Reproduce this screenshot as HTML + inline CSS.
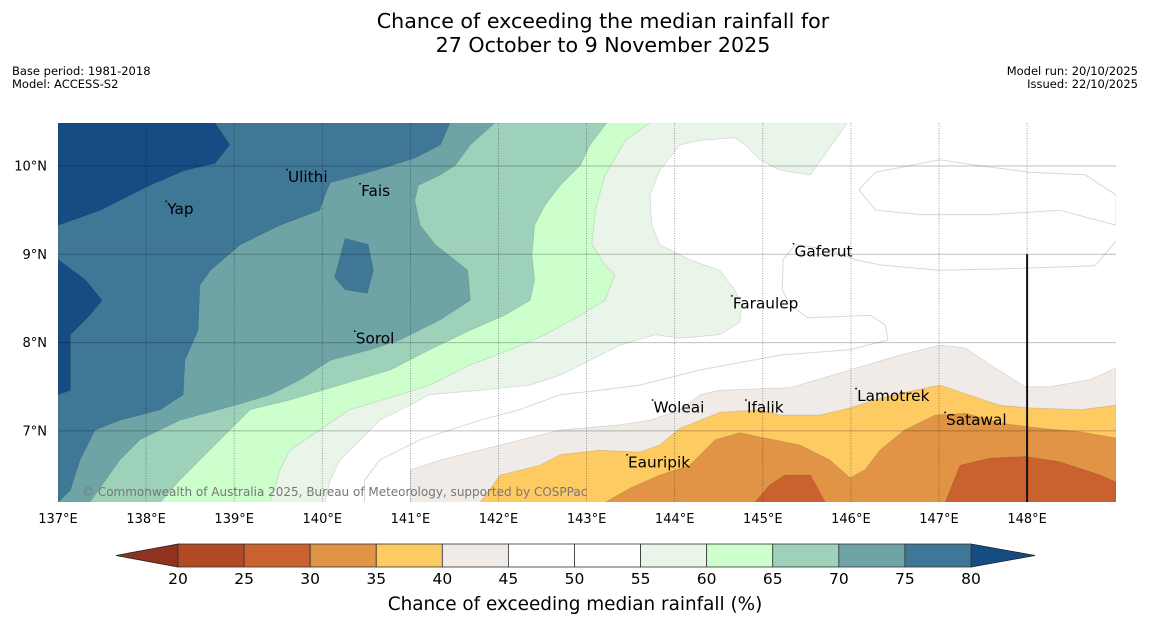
<!DOCTYPE html>
<html><head><meta charset="utf-8"><style>
html,body{margin:0;padding:0;background:#fff;}
svg{display:block;font-family:"DejaVu Sans","Liberation Sans",sans-serif;}
</style></head><body>
<svg id="chart" width="1150" height="644" viewBox="0 0 1150 644">
<text x="603" y="28" text-anchor="middle" font-size="20.6">Chance of exceeding the median rainfall for</text>
<text x="603" y="52" text-anchor="middle" font-size="20.6">27 October to 9 November 2025</text>
<text x="12" y="75" font-size="11.5">Base period: 1981-2018</text>
<text x="12" y="88" font-size="11.5">Model: ACCESS-S2</text>
<text x="1138" y="75" font-size="11.5" text-anchor="end">Model run: 20/10/2025</text>
<text x="1138" y="88" font-size="11.5" text-anchor="end">Issued: 22/10/2025</text>
<defs><clipPath id="mapclip"><rect x="58" y="123" width="1058" height="379"/></clipPath></defs>
<rect x="58" y="123" width="1058" height="379" fill="#ffffff"/>
<g id="fills" clip-path="url(#mapclip)"></g>
<g id="grid" clip-path="url(#mapclip)"></g>
<g id="labels"></g>
<g id="cbar"></g>
<text x="575" y="610" text-anchor="middle" font-size="18.4">Chance of exceeding median rainfall (%)</text>
</svg>
<script>
const lonTicks=[137,138,139,140,141,142,143,144,145,146,147,148];
const latTicks=[10,9,8,7];
const cbarBounds=[20,25,30,35,40,45,50,55,60,65,70,75,80];
const cbarColors=['#b24a25','#ca6230','#e19445','#fecb63','#f0ebe6','#ffffff','#ffffff','#e9f5e9','#ccffcc','#9dd1b9','#6ea4a6','#3f7797'];
const contourLevels=['ge55','ge60','ge65','ge70','ge75','ge80a','ge80b','ge75blob','le45','le40','le35','le30a','le30b'];
const contourColors=['#e9f5e9','#ccffcc','#9dd1b9','#6ea4a6','#3f7797','#154c83','#154c83','#3f7797','#f0ebe6','#fecb63','#e19445','#ca6230','#ca6230'];
const W=[[137,6.19],[137,10.49]];
const E=[[149.01,6.19]];
const ge55=[[145.96,10.49],[145.82,10.29],[145.54,9.90],[145.20,9.95],[144.97,10.07],[144.80,10.24],[144.68,10.32],[144.29,10.29],[144.06,10.24],[143.83,9.95],[143.72,9.67],[143.74,9.33],[143.83,9.11],[144.17,8.94],[144.51,8.82],[144.68,8.60],[144.76,8.43],[144.74,8.23],[144.51,8.09],[144.06,8.05],[143.78,8.09],[143.38,7.97],[143.04,7.80],[142.70,7.63],[142.36,7.52],[141.79,7.46],[141.22,7.41],[140.99,7.29],[140.65,7.12],[140.43,6.90],[140.20,6.67],[140.09,6.44],[140.03,6.19]].concat(W);
const ge60=[[143.72,10.49],[143.44,10.29],[143.21,9.90],[143.10,9.50],[143.06,9.11],[143.21,8.88],[143.32,8.77],[143.21,8.48],[142.93,8.31],[142.53,8.09],[142.13,7.92],[141.68,7.75],[141.22,7.52],[140.88,7.41],[140.31,7.24],[139.97,7.01],[139.63,6.78],[139.52,6.56],[139.41,6.19]].concat(W);
const ge65=[[143.23,10.49],[143.04,10.24],[142.93,10.01],[142.70,9.78],[142.53,9.56],[142.41,9.33],[142.38,8.99],[142.41,8.71],[142.36,8.48],[142.07,8.31],[141.68,8.14],[141.22,7.92],[140.77,7.69],[140.20,7.52],[139.63,7.35],[139.18,7.24],[138.95,7.01],[138.61,6.67],[138.38,6.44],[138.16,6.19]].concat(W);
const ge70=[[141.96,10.49],[141.68,10.24],[141.51,10.01],[141.34,9.90],[141.09,9.78],[141.05,9.61],[141.11,9.33],[141.28,9.11],[141.65,8.82],[141.68,8.48],[141.34,8.26],[140.88,8.03],[140.54,7.92],[140.09,7.80],[139.75,7.58],[139.41,7.41],[139.01,7.29],[138.38,7.12],[137.93,6.90],[137.70,6.67],[137.36,6.19]].concat(W);
const ge75=[[141.45,10.49],[141.34,10.24],[141.05,10.09],[140.60,9.95],[140.09,9.81],[140.03,9.67],[139.97,9.50],[139.52,9.33],[139.07,9.11],[138.73,8.82],[138.61,8.65],[138.59,8.14],[138.44,7.80],[138.42,7.41],[138.16,7.24],[137.70,7.12],[137.42,7.01],[137.25,6.67],[137.14,6.33],[137,6.19],[137,10.49]];
const ge75blob=[[140.26,9.18],[140.52,9.11],[140.58,8.82],[140.51,8.56],[140.26,8.60],[140.14,8.74]];
const ge80a=[[137,10.49],[138.78,10.49],[138.95,10.24],[138.78,10.03],[138.44,9.95],[138.04,9.78],[137.48,9.50],[137,9.33]];
const ge80b=[[137,8.94],[137.31,8.71],[137.50,8.48],[137.36,8.31],[137.14,8.09],[137.14,7.46],[137,7.41]];
const le45=[[141.00,6.19],[141.00,6.56],[141.34,6.67],[142.02,6.84],[142.70,7.01],[143.38,7.07],[143.72,7.12],[144.06,7.24],[144.29,7.41],[144.51,7.46],[145.31,7.49],[145.99,7.69],[146.56,7.86],[147.01,7.97],[147.30,7.94],[147.58,7.75],[147.98,7.50],[148.26,7.50],[148.71,7.58],[149.01,7.71]].concat(E);
const le40=[[141.79,6.19],[142.02,6.50],[142.47,6.61],[142.70,6.73],[143.15,6.78],[143.61,6.76],[143.83,6.84],[144.06,7.03],[144.29,7.12],[144.51,7.21],[144.97,7.24],[145.20,7.18],[145.65,7.18],[145.99,7.26],[146.33,7.37],[146.73,7.46],[147.01,7.52],[147.24,7.44],[147.69,7.29],[148.03,7.26],[148.60,7.24],[149.01,7.29]].concat(E);
const le35=[[143.21,6.19],[143.49,6.35],[143.83,6.50],[144.17,6.61],[144.46,6.90],[144.74,6.98],[144.97,6.93],[145.42,6.84],[145.76,6.67],[145.99,6.47],[146.16,6.56],[146.33,6.78],[146.61,7.01],[146.96,7.18],[147.30,7.20],[147.69,7.09],[148.15,7.03],[148.60,6.99],[149.01,6.92]].concat(E);
const le30a=[[144.91,6.19],[145.08,6.39],[145.25,6.50],[145.54,6.50],[145.71,6.19]];
const le30b=[[147.07,6.19],[147.24,6.61],[147.58,6.69],[147.98,6.71],[148.37,6.65],[148.83,6.50],[149.01,6.42]].concat(E);
const line50=[[149.01,9.15],[148.77,8.87],[147.92,8.84],[147.01,8.82],[146.33,8.88],[146.05,8.94],[145.76,9.05],[145.37,9.11],[145.23,8.94],[145.22,8.60],[145.31,8.43],[145.51,8.28],[146.22,8.31],[146.39,8.20],[146.42,8.03],[145.99,7.92],[145.20,7.86],[144.29,7.69],[143.61,7.52],[143.15,7.46],[142.70,7.41],[142.24,7.24],[141.79,7.12],[141.11,6.90],[140.65,6.67],[140.48,6.44],[140.48,6.19]];
const loop50=[[146.28,9.50],[146.09,9.73],[146.28,9.93],[147.01,10.07],[147.41,10.01],[148.03,9.93],[148.66,9.90],[149.01,9.67],[149.01,9.33],[148.37,9.50],[147.58,9.45],[146.79,9.45]];
const placeNames=['Yap','Ulithi','Fais','Sorol','Gaferut','Faraulep','Woleai','Ifalik','Lamotrek','Satawal','Eauripik'];
const placeLon=[138.24,139.61,140.44,140.38,145.36,144.66,143.76,144.82,146.07,147.08,143.47];
const placeLat=[9.52,9.88,9.72,8.05,9.04,8.45,7.27,7.27,7.40,7.13,6.65];
const areaSets={ge55,ge60,ge65,ge70,ge75,ge80a,ge80b,ge75blob,le45,le40,le35,le30a,le30b};

const NS='http://www.w3.org/2000/svg';
const xOf=lon=>58+(lon-137)*88.1;
const yOf=lat=>166+(10-lat)*88.3;
const mk=(t,a,p)=>{const e=document.createElementNS(NS,t);for(const k in a)e.setAttribute(k,a[k]);p.appendChild(e);return e;};
const pts=arr=>arr.map(p=>xOf(p[0]).toFixed(1)+','+yOf(p[1]).toFixed(1)).join(' ');

const fills=document.getElementById('fills');
contourLevels.forEach((k,i)=>{
  const p=mk('polygon',{points:pts(areaSets[k]),fill:contourColors[i],stroke:'rgba(0,0,0,0.12)','stroke-width':0.8},fills);
  
  
});
const l1=mk('polyline',{points:pts(line50),fill:'none',stroke:'#d8d8d8','stroke-width':1},fills);


const l2=mk('polygon',{points:pts(loop50),fill:'none',stroke:'#d8d8d8','stroke-width':1},fills);



const grid=document.getElementById('grid');
latTicks.forEach(v=>{
  const g=mk('line',{x1:58,x2:1116,y1:yOf(v),y2:yOf(v),stroke:'rgba(0,0,0,0.25)','stroke-width':1},grid);
  
  
});
lonTicks.slice(1).forEach(v=>{
  const g=mk('line',{x1:xOf(v),x2:xOf(v),y1:123,y2:502,stroke:'rgba(0,0,0,0.45)','stroke-width':0.8,'stroke-dasharray':'1,1.5'},grid);
  
  
});
const dl=mk('line',{x1:xOf(148),x2:xOf(148),y1:yOf(9),y2:502,stroke:'#111','stroke-width':2},grid);



const labels=document.getElementById('labels');
lonTicks.forEach(v=>{
  const t=mk('text',{x:xOf(v),y:523,'text-anchor':'middle','font-size':13},labels);t.textContent=v+'°E';
  
  
});
latTicks.forEach(v=>{
  const t=mk('text',{x:47,y:yOf(v)+4.5,'text-anchor':'end','font-size':13},labels);t.textContent=v+'°N';
  
  
});
placeNames.forEach((n,i)=>{
  const t=mk('text',{x:xOf(placeLon[i]),y:yOf(placeLat[i])+5.5,'font-size':15.3},labels);t.textContent=n;
  
  
  const d=mk('circle',{cx:xOf(placeLon[i])-1,cy:yOf(placeLat[i])-7,r:0.9,fill:'#000'},labels);
  
  
});
const cp=mk('text',{x:82,y:496,'font-size':12,fill:'#777'},labels);
cp.textContent='© Commonwealth of Australia 2025, Bureau of Meteorology, supported by COSPPac';



const cb=document.getElementById('cbar');
const cx=v=>178+(v-20)*(971-178)/60;
const t1=mk('polygon',{points:'178,544 116,555.5 178,567',fill:'#8f3320',stroke:'#222','stroke-width':0.8},cb);


const t2=mk('polygon',{points:'971,544 1035,555.5 971,567',fill:'#154c83',stroke:'#222','stroke-width':0.8},cb);


cbarColors.forEach((c,i)=>{
  const r=mk('rect',{x:cx(cbarBounds[i]),y:544,width:cx(cbarBounds[i+1])-cx(cbarBounds[i]),height:23,fill:c,stroke:'#333','stroke-width':0.8},cb);
  
  
});
cbarBounds.forEach(v=>{
  const t=mk('text',{x:cx(v),y:584,'text-anchor':'middle','font-size':15.5},cb);t.textContent=v;
  
  
});
</script>
</body></html>
